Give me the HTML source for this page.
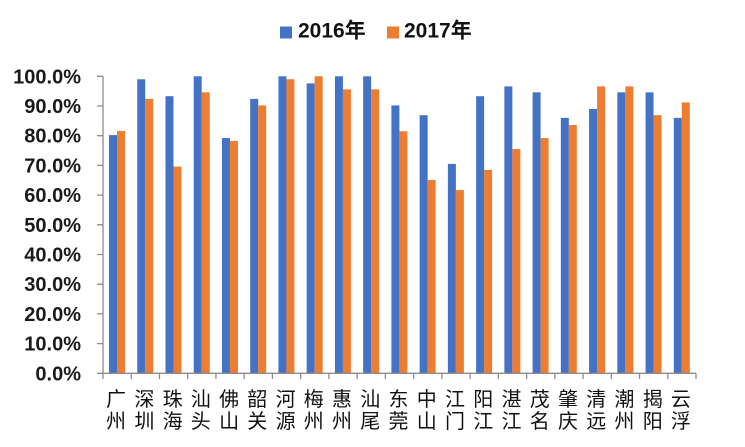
<!DOCTYPE html>
<html><head><meta charset="utf-8"><style>
html,body{margin:0;padding:0;background:#fff;}
svg{display:block;}
.yl{font-family:"Liberation Sans","Noto Sans CJK SC",sans-serif;font-weight:bold;font-size:20px;fill:#1a1a1a;text-anchor:end;}
.xl{font-family:"Liberation Sans","Noto Sans CJK SC",sans-serif;font-size:20px;fill:#111;text-anchor:middle;}
.lg{font-family:"Liberation Sans","Noto Sans CJK SC",sans-serif;font-weight:bold;font-size:21px;fill:#111;}
</style></head><body>
<svg width="745" height="447" viewBox="0 0 745 447" xmlns="http://www.w3.org/2000/svg">
<rect x="0" y="0" width="745" height="447" fill="#fff"/>
<!-- legend -->
<rect x="280" y="26.5" width="12" height="12" fill="#4472C4"/>
<text class="lg" x="298" y="37.5">2016年</text>
<rect x="387" y="26.5" width="12" height="12" fill="#ED7D31"/>
<text class="lg" x="404" y="37.5">2017年</text>
<!-- y labels -->
<text class="yl" x="81" y="380.3">0.0%</text>
<text class="yl" x="81" y="350.6">10.0%</text>
<text class="yl" x="81" y="320.9">20.0%</text>
<text class="yl" x="81" y="291.2">30.0%</text>
<text class="yl" x="81" y="261.5">40.0%</text>
<text class="yl" x="81" y="231.8">50.0%</text>
<text class="yl" x="81" y="202.1">60.0%</text>
<text class="yl" x="81" y="172.4">70.0%</text>
<text class="yl" x="81" y="142.7">80.0%</text>
<text class="yl" x="81" y="113">90.0%</text>
<text class="yl" x="81" y="83.3">100.0%</text>
<!-- bars -->
<g transform="translate(0,373.3) scale(1,-2.97)">
<g fill="#4472C4">
<rect x="109" y="0" width="8" height="80.2"/>
<rect x="137.24" y="0" width="8" height="99.0"/>
<rect x="165.48" y="0" width="8" height="93.3"/>
<rect x="193.72" y="0" width="8" height="100"/>
<rect x="221.96" y="0" width="8" height="79.2"/>
<rect x="250.2" y="0" width="8" height="92.4"/>
<rect x="278.44" y="0" width="8" height="100"/>
<rect x="306.68" y="0" width="8" height="97.6"/>
<rect x="334.92" y="0" width="8" height="100"/>
<rect x="363.16" y="0" width="8" height="100"/>
<rect x="391.4" y="0" width="8" height="90.2"/>
<rect x="419.64" y="0" width="8" height="86.9"/>
<rect x="447.88" y="0" width="8" height="70.5"/>
<rect x="476.12" y="0" width="8" height="93.3"/>
<rect x="504.36" y="0" width="8" height="96.6"/>
<rect x="532.6" y="0" width="8" height="94.6"/>
<rect x="560.84" y="0" width="8" height="86.0"/>
<rect x="589.08" y="0" width="8" height="89.0"/>
<rect x="617.32" y="0" width="8" height="94.6"/>
<rect x="645.56" y="0" width="8" height="94.6"/>
<rect x="673.8" y="0" width="8" height="86.0"/>
</g>
<g fill="#ED7D31">
<rect x="117" y="0" width="8" height="81.6"/>
<rect x="145.24" y="0" width="8" height="92.4"/>
<rect x="173.48" y="0" width="8" height="69.6"/>
<rect x="201.72" y="0" width="8" height="94.6"/>
<rect x="229.96" y="0" width="8" height="78.2"/>
<rect x="258.2" y="0" width="8" height="90.2"/>
<rect x="286.44" y="0" width="8" height="99.0"/>
<rect x="314.68" y="0" width="8" height="100"/>
<rect x="342.92" y="0" width="8" height="95.6"/>
<rect x="371.16" y="0" width="8" height="95.6"/>
<rect x="399.4" y="0" width="8" height="81.5"/>
<rect x="427.64" y="0" width="8" height="65.1"/>
<rect x="455.88" y="0" width="8" height="61.7"/>
<rect x="484.12" y="0" width="8" height="68.5"/>
<rect x="512.36" y="0" width="8" height="75.5"/>
<rect x="540.6" y="0" width="8" height="79.2"/>
<rect x="568.84" y="0" width="8" height="83.6"/>
<rect x="597.08" y="0" width="8" height="96.6"/>
<rect x="625.32" y="0" width="8" height="96.6"/>
<rect x="653.56" y="0" width="8" height="86.9"/>
<rect x="681.8" y="0" width="8" height="91.2"/>
</g>
</g>
<!-- axes -->
<g stroke="#8c8c8c" stroke-width="1.3" fill="none">
<line x1="103" y1="76.3" x2="103" y2="373.3"/>
<line x1="103" y1="373.3" x2="696" y2="373.3"/>
<path d="M97 76.3H103M97 106H103M97 135.7H103M97 165.4H103M97 195.1H103M97 224.8H103M97 254.5H103M97 284.2H103M97 313.9H103M97 343.6H103M97 373.3H103"/>
<path d="M103 373.3V379M131.24 373.3V379M159.48 373.3V379M187.72 373.3V379M215.96 373.3V379M244.2 373.3V379M272.44 373.3V379M300.68 373.3V379M328.92 373.3V379M357.16 373.3V379M385.4 373.3V379M413.64 373.3V379M441.88 373.3V379M470.12 373.3V379M498.36 373.3V379M526.6 373.3V379M554.84 373.3V379M583.08 373.3V379M611.32 373.3V379M639.56 373.3V379M667.8 373.3V379M696 373.3V379"/>
</g>
<!-- x labels -->
<g class="xl">
<text x="116" y="406">广</text><text x="116" y="428">州</text>
<text x="144.4" y="406">深</text><text x="144.4" y="428">圳</text>
<text x="172.6" y="406">珠</text><text x="172.6" y="428">海</text>
<text x="200.8" y="406">汕</text><text x="200.8" y="428">头</text>
<text x="229.1" y="406">佛</text><text x="229.1" y="428">山</text>
<text x="257.3" y="406">韶</text><text x="257.3" y="428">关</text>
<text x="285.6" y="406">河</text><text x="285.6" y="428">源</text>
<text x="313.8" y="406">梅</text><text x="313.8" y="428">州</text>
<text x="342" y="406">惠</text><text x="342" y="428">州</text>
<text x="370.3" y="406">汕</text><text x="370.3" y="428">尾</text>
<text x="398.5" y="406">东</text><text x="398.5" y="428">莞</text>
<text x="426.8" y="406">中</text><text x="426.8" y="428">山</text>
<text x="455" y="406">江</text><text x="455" y="428">门</text>
<text x="483.2" y="406">阳</text><text x="483.2" y="428">江</text>
<text x="511.5" y="406">湛</text><text x="511.5" y="428">江</text>
<text x="539.7" y="406">茂</text><text x="539.7" y="428">名</text>
<text x="568" y="406">肇</text><text x="568" y="428">庆</text>
<text x="596.2" y="406">清</text><text x="596.2" y="428">远</text>
<text x="624.4" y="406">潮</text><text x="624.4" y="428">州</text>
<text x="652.7" y="406">揭</text><text x="652.7" y="428">阳</text>
<text x="680.9" y="406">云</text><text x="680.9" y="428">浮</text>
</g>
</svg>
</body></html>
